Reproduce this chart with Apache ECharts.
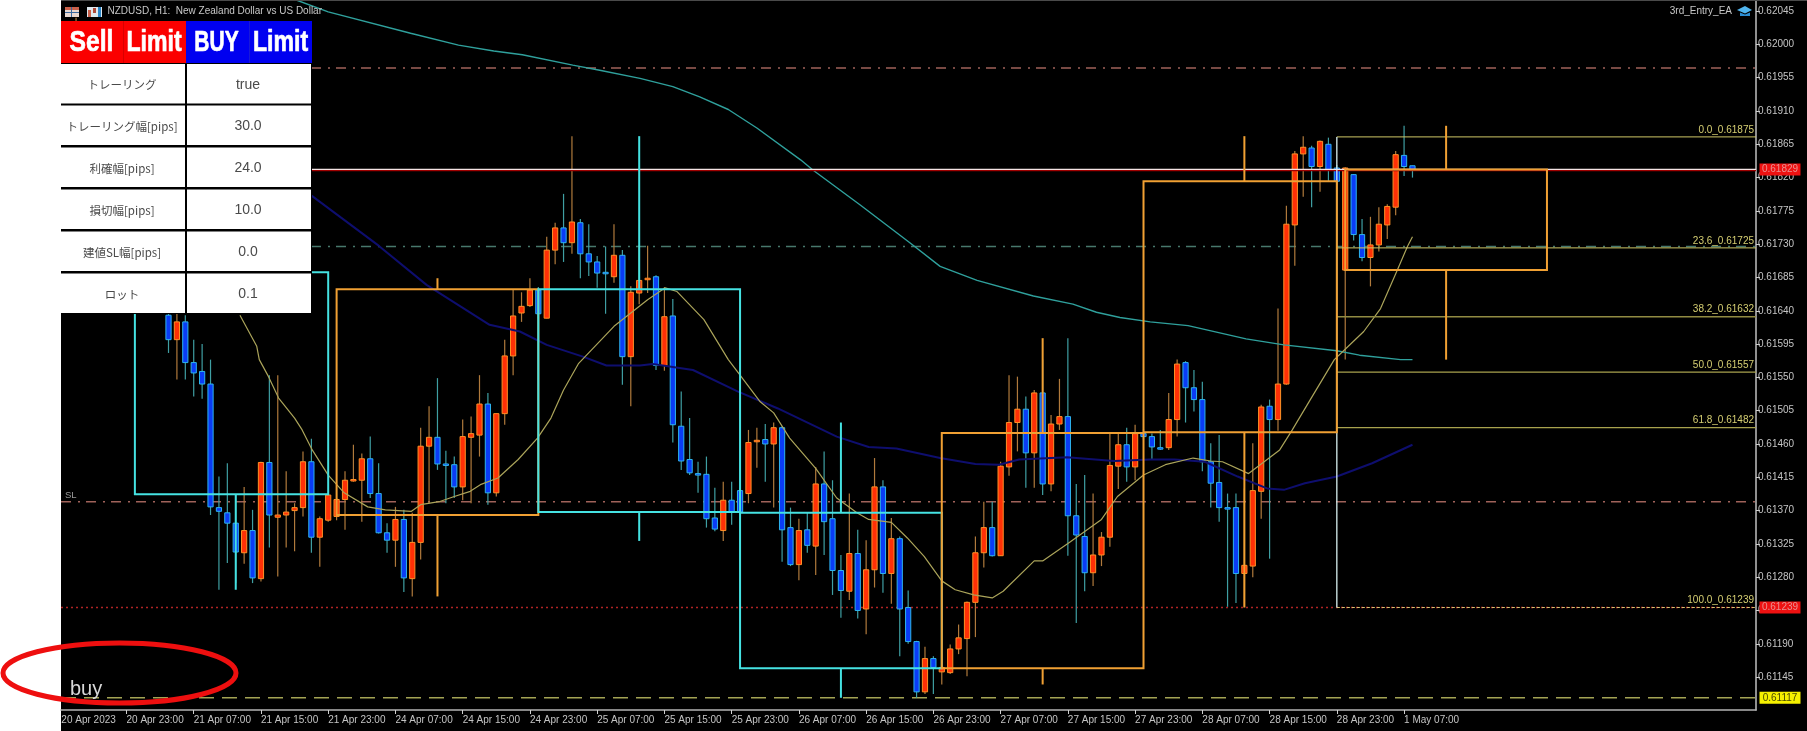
<!DOCTYPE html>
<html lang="ja">
<head>
  <meta charset="UTF-8">
  <title>NZDUSD, H1</title>
  <script src="https://cdn.jsdelivr.net/npm/echarts@6/dist/echarts.min.js"></script>
  <style>
    html, body { margin: 0; padding: 0; background: #fff; overflow: hidden; }
    #backdrop { position: absolute; left: 61px; top: 0; width: 1746px; height: 731px; background: #000; }
    #chart { position: absolute; left: 0; top: 0; width: 1807px; height: 731px; }
  </style>
</head>
<body>
<div id="backdrop"></div>
<div id="chart"></div>
<script>
  // prices below are in points (0.61634 -> 61634)
  var firstBar = -6;
  var opens = [61995,null,null,null,null,null,null,null,null,null,null,
    61634,61601,61625,61570,61558,61541,61374,61367,61353,61313,61343,61278,61435,61361,61364,61370,61374,61436,61334,61357,
    61362,61385,61411,61411,61440,61393,61340,61330,61358,61278,61327,61457,61469,61433,61432,61402,61469,61472,61514,61394,
    61501,61579,61637,61647,61668,61630,61722,61752,61732,61759,61717,61706,61692,61686,61715,61578,61664,61682,61686,61566,
    61633,61484,61439,61420,61419,61360,61343,61384,61397,61393,61464,61466,61460,61482,61347,61297,61344,61322,61406,61359,
    61289,61261,61312,61237,61290,61402,61285,61332,61239,61193,61125,61170,61152,61151,61183,61197,61246,61313,61347,61309,
    61429,61489,61507,61448,61529,61406,61487,61497,61363,61335,61286,61310,61334,61430,61459,61429,61474,61470,61455,61455,
    61493,61570,61536,61520,61436,61408,61374,61374,61285,61295,61396,61511,61493,61541,61756,61852,61860,61835,61865,61833,
    61695,61824,61743,61712,61729,61756,61780,61850,61836];
  var closes = [62010,null,null,null,null,null,null,null,null,null,null,
    61601,61625,61570,61556,61541,61375,61369,61353,61314,61343,61279,61435,61364,61364,61368,61374,61436,61334,61359,61391,
    61385,61411,61412,61440,61393,61340,61330,61358,61279,61327,61457,61469,61433,61431,61402,61470,61474,61514,61394,61501,
    61579,61633,61646,61668,61636,61722,61752,61732,61760,61717,61706,61691,61691,61715,61578,61665,61681,61684,61566,61632,
    61486,61437,61421,61419,61359,61345,61384,61368,61368,61462,61465,61460,61482,61344,61297,61343,61323,61406,61355,61289,
    61262,61312,61235,61290,61402,61285,61332,61237,61193,61125,61170,61158,61158,61183,61198,61246,61313,61347,61309,61430,
    61489,61507,61448,61529,61406,61487,61497,61363,61337,61286,61310,61334,61431,61459,61429,61474,61470,61456,61454,61493,
    61568,61536,61520,61436,61407,61374,61373,61285,61296,61397,61510,61493,61541,61757,61852,61861,61835,61869,61830,61815,
    61833,61743,61712,61729,61757,61781,61851,61835,61831];
  var lows = [61985,null,null,null,null,null,null,null,null,null,null,
    61583,61547,61547,61524,61521,61364,61263,61299,61272,61298,61272,61274,61320,61281,61320,61315,61362,61313,61294,61355,
    61357,61344,61409,61355,61387,61339,61313,61294,61260,61254,61304,61380,61425,61380,61387,61384,61380,61443,61378,61389,
    61486,61553,61625,61645,61630,61630,61703,61706,61717,61684,61687,61671,61636,61678,61540,61511,61649,61664,61560,61559,
    61462,61425,61418,61394,61347,61342,61329,61351,61364,61380,61428,61409,61374,61301,61295,61276,61313,61283,61310,61256,
    61225,61249,61224,61203,61266,61259,61244,61173,61190,61117,61122,61122,61135,61149,61176,61146,61199,61293,61308,61309,
    61417,61450,61401,61401,61391,61396,61479,61309,61218,61261,61268,61295,61321,61399,61409,61411,61466,61439,61452,61452,
    61470,61489,61504,61423,61374,61355,61240,61245,61240,61280,61359,61305,61478,61540,61701,61794,61780,61801,61815,61811,
    61574,61735,61707,61673,61720,61737,61769,61822,61820];
  var highs = [62036,null,null,null,null,null,null,null,null,null,null,
    61641,61638,61634,61601,61595,61574,61416,61434,61391,61402,61371,61436,61553,61553,61423,61380,61450,61467,61362,61394,
    61387,61423,61459,61447,61470,61434,61353,61375,61371,61367,61482,61511,61549,61451,61443,61493,61497,61553,61529,61501,
    61601,61668,61665,61684,61672,61740,61759,61798,61876,61764,61757,61714,61727,61757,61722,61673,61729,61728,61688,61672,
    61656,61531,61495,61436,61443,61401,61409,61409,61401,61479,61482,61487,61489,61484,61374,61359,61367,61429,61450,61411,
    61310,61393,61344,61330,61441,61411,61360,61335,61262,61194,61186,61173,61168,61189,61216,61247,61335,61382,61382,61436,
    61553,61551,61524,61533,61574,61499,61548,61603,61406,61418,61393,61341,61475,61474,61482,61486,61480,61474,61479,61529,
    61574,61572,61560,61544,61461,61472,61393,61393,61400,61461,61513,61520,61643,61782,61856,61876,61863,61870,61874,61837,
    61834,61825,61764,61767,61780,61784,61856,61890,61836];

  var fastBars = [13.5,15.5,15.8,16.9,18.1,20,20.9,22.1,24,25.9,28.7,30.8,33.9,35,37.2,39,40.9,42.1,44.2,46.6,48.9,50.5,52,53.8,
    58,62,64.1,65.5,68.7,71.6,73,75.4,77,78.9,82,84.5,86.9,88.3,91,92.9,94.9,97,98.6,100.8,103,104.3,108,109,112.3,116,117.9,
    121,123.6,126.9,129,130.4,133.5,135,137.2,138.7,140.9,143.7,144.9,147.2,149.2,151.2,152.4,153];
  var fastValues = [61634,61592,61574,61551,61522,61495,61479,61452,61418,61394,61375,61371,61369,61378,61382,61389,61396,61405,61414,61439,61468,61495,61533,61569,
    61619,61655,61671,61666,61628,61574,61553,61517,61502,61468,61427,61387,61367,61358,61354,61333,61308,61275,61263,61256,61252,61261,61302,61302,61328,61358,61389,
    61418,61432,61441,61437,61436,61420,61433,61452,61479,61521,61574,61587,61612,61643,61695,61727,61740];
  var midBars = [20.6,22.1,30,35.7,43.2,46.8,50,54.3,57.1,61.1,62.6,67.4,72.7,77.5,84.5,88.3,91.6,96.8,101,103.8,106.2,111.9,117.5,
    121.8,124.7,128.3,132.2,135.7,137.7,140.2,144,148.2,153];
  var midValues = [61806,61795,61728,61675,61621,61612,61594,61578,61566,61566,61568,61560,61531,61508,61470,61456,61454,61441,61433,61432,61439,61442,61437,
    61439,61439,61436,61416,61400,61398,61407,61416,61434,61459];
  var slowBars = [20.2,24,33.8,39.5,43.7,47.1,53.1,56.3,61.1,65,68.2,71.6,75,80.2,81.7,87.3,93.2,96.8,101.2,107.9,112.6,115.4,118.2,
    121.8,126.3,133.2,137.7,144,146.7,151.6,153];
  var slowValues = [62060,62044,62015,61999,61991,61986,61972,61965,61954,61943,61929,61912,61887,61844,61830,61783,61732,61700,61681,61660,61649,61638,61631,
    61625,61620,61602,61594,61586,61580,61574,61574];

  var boxSides = ['sell','buy','sell','sell','buy','buy','buy'];
  var boxStart = [1,25,49,73,97,121,145];
  var boxEnd = [24,49,73,97,121,144,169];
  var boxTop = [61692,61669,61669,61367,61475,61815,61831];
  var boxBottom = [61392,61364,61368,61157,61157,61476,61695];
  var tailBar = [13,37,61,85,109,133,157];
  var tailHigh = [61760,61684,61876,61489,61603,61876,61890];
  var tailLow = [61263,61254,61329,61117,61135,61239,61574];

  var levelPrices = [61968,61727,61382,61239,61117];
  var profitLine = 61831;
  var fibStartBar = 144;
  var fibPrices = [61875,61725,61632,61557,61482,61239];
  var fibNames = ['0.0_0.61875','23.6_0.61725','38.2_0.61632','50.0_0.61557','61.8_0.61482','100.0_0.61239'];
  var tagPrices = [61831,61239,61117];
  var tagTexts = ['0.61829','0.61239','0.61117'];

  var tickBars = [-7.75,0,8,16,24,32,40,48,56,64,72,80,88,96,104,112,120,128,136,144,152];
  var tickLabels = ['20 Apr 2023','20 Apr 23:00','21 Apr 07:00','21 Apr 15:00','21 Apr 23:00','24 Apr 07:00','24 Apr 15:00','24 Apr 23:00',
    '25 Apr 07:00','25 Apr 15:00','25 Apr 23:00','26 Apr 07:00','26 Apr 15:00','26 Apr 23:00','27 Apr 07:00','27 Apr 15:00','27 Apr 23:00',
    '28 Apr 07:00','28 Apr 15:00','28 Apr 23:00','1 May 07:00'];
  var priceTicks = [0.62045,0.62000,0.61955,0.61910,0.61865,0.61820,0.61775,0.61730,0.61685,0.61640,0.61595,0.61550,0.61505,0.61460,
    0.61415,0.61370,0.61325,0.61280,0.61235,0.61190,0.61145];

  var panelLabels = ['トレーリング','トレーリング幅[pips]','利確幅[pips]','損切幅[pips]','建値SL幅[pips]','ロット'];
  var panelValues = ['true','30.0','24.0','10.0','0.0','0.1'];

  var xMin = -7.79, xMax = 193.87, yMin = 0.611005, yMax = 0.6206;

  function price(points) { return points === null ? null : points / 100000; }
  function zip(bars, values) {
    return bars.map(function (b, i) { return [b, price(values[i])]; });
  }

  var candleData = [];
  opens.forEach(function (o, i) {
    if (o === null) return;
    candleData.push([firstBar + i, price(o), price(closes[i]), price(lows[i]), price(highs[i])]);
  });

  function renderCandle(params, api) {
    var bar = api.value(0), o = api.value(1), c = api.value(2);
    var up = c >= o;
    var x = api.coord([bar, o])[0];
    var yO = api.coord([bar, o])[1], yC = api.coord([bar, c])[1];
    var yL = api.coord([bar, api.value(3)])[1], yH = api.coord([bar, api.value(4)])[1];
    var w = api.size([1, 0])[0] * 0.62;
    var top = Math.min(yO, yC), h = Math.max(Math.abs(yO - yC), 1.5);
    return {
      type: 'group',
      children: [
        { type: 'line', shape: { x1: x, y1: yH, x2: x, y2: yL }, style: { stroke: up ? '#b07a3c' : '#3f9fa3', lineWidth: 1.2 } },
        { type: 'rect', shape: { x: x - w / 2, y: top, width: w, height: h },
          style: { fill: up ? '#ff3006' : '#0a3cf5', stroke: up ? '#ff9026' : '#2eb4ee', lineWidth: 1 } }
      ]
    };
  }

  var boxData = boxStart.map(function (s, i) {
    return [s, boxEnd[i], price(boxTop[i]), price(boxBottom[i]), tailBar[i], price(tailHigh[i]), price(tailLow[i]), boxSides[i] === 'sell' ? 0 : 1];
  });

  function renderBox(params, api) {
    var a = api.coord([api.value(0), api.value(2)]);
    var b = api.coord([api.value(1), api.value(3)]);
    var color = api.value(7) === 0 ? '#45e2e2' : '#f0a033';
    var tx = api.coord([api.value(4), api.value(2)])[0];
    var yHi = api.coord([api.value(4), api.value(5)])[1];
    var yLo = api.coord([api.value(4), api.value(6)])[1];
    var stroke = { stroke: color, lineWidth: 2, fill: null };
    return {
      type: 'group',
      children: [
        { type: 'rect', shape: { x: a[0], y: a[1], width: b[0] - a[0], height: b[1] - a[1] }, style: stroke },
        { type: 'line', shape: { x1: tx, y1: yHi, x2: tx, y2: a[1] }, style: stroke },
        { type: 'line', shape: { x1: tx, y1: b[1], x2: tx, y2: yLo }, style: stroke }
      ]
    };
  }

  function flatLine(name, from, p, color, width, dash, z) {
    return {
      name: name, type: 'line', data: [[from, p], [xMax, p]], symbol: 'none', silent: true, z: z,
      lineStyle: { color: color, width: width, type: dash || 'solid' }
    };
  }

  function maLine(name, data, color, width, z) {
    return {
      name: name, type: 'line', data: data, symbol: 'none', silent: true, z: z,
      lineStyle: { color: color, width: width }
    };
  }

  var dashDot = [10, 7, 2, 6];
  var levelStyles = [
    ['#a0625a', 1.5, dashDot], ['#47786c', 1.5, dashDot], ['#a0625a', 1.5, dashDot],
    ['#b02424', 1.5, [2, 3]], ['#a4a454', 1.5, [15, 8]]
  ];
  var fibStyles = [['#cfc766', 1], ['#cfc766', 1], ['#918b42', 1.6], ['#a8a24e', 1.2], ['#a8a24e', 1.2], ['#d8c070', 1]];
  var fibDashes = [null, null, null, null, null, [3, 2]];

  var series = [];
  levelPrices.forEach(function (p, i) {
    var s = levelStyles[i];
    series.push(flatLine('level' + i, xMin, price(p), s[0], s[1], s[2], 1));
  });
  series.push({ name: 'candles', type: 'custom', renderItem: renderCandle, data: candleData, encode: { x: 0, y: [1, 2, 3, 4] }, silent: true, clip: true, z: 3 });
  series.push(maLine('slowMA', zip(slowBars, slowValues), '#2fa09c', 1.4, 4));
  series.push(maLine('midMA', zip(midBars, midValues), '#0e0e6e', 2, 4));
  series.push(maLine('fastMA', zip(fastBars, fastValues), '#aba45a', 1.2, 4));
  series.push(flatLine('profitBase', xMin, price(profitLine) - 0.000014, '#a00000', 1.4, null, 4));
  series.push(flatLine('profit', xMin, price(profitLine), '#f4e4e4', 1.2, null, 4));
  fibPrices.forEach(function (p, i) {
    series.push(flatLine('fib' + i, fibStartBar, price(p), fibStyles[i][0], fibStyles[i][1], fibDashes[i], 4));
  });
  series.push({
    name: 'fibStem', type: 'line', symbol: 'none', silent: true, z: 4,
    data: [[fibStartBar, price(fibPrices[0])], [fibStartBar, price(fibPrices[5])]],
    lineStyle: { color: '#d8f0f0', width: 1.3 }
  });
  series.push({ name: 'boxes', type: 'custom', renderItem: renderBox, data: boxData, silent: true, clip: true, z: 5 });
  series.push({
    name: 'fibLabels', type: 'custom', silent: true, z: 6,
    data: fibPrices.map(function (p, i) { return [xMax, price(p), i]; }),
    renderItem: function (params, api) {
      var pt = api.coord([api.value(0), api.value(1)]);
      return {
        type: 'text',
        style: { x: pt[0] - 2, y: pt[1] - 7, text: fibNames[api.value(2)], fill: '#d6cf72', font: '10px "Liberation Sans"', align: 'right', verticalAlign: 'middle' }
      };
    }
  });
  series.push({
    name: 'priceTags', type: 'custom', silent: true, z: 20,
    data: tagPrices.map(function (p, i) { return [xMax, price(p), i]; }),
    renderItem: function (params, api) {
      var pt = api.coord([api.value(0), api.value(1)]);
      var i = api.value(2);
      var yellow = i === 2;
      return {
        type: 'group',
        children: [
          { type: 'rect', shape: { x: pt[0] + 3.5, y: pt[1] - 6, width: 41, height: 12 }, style: { fill: yellow ? '#f5f000' : '#ee1111' } },
          { type: 'text', style: { x: pt[0] + 24, y: pt[1], text: tagTexts[i], fill: yellow ? '#4a4a00' : '#e89090', font: '10px "Liberation Sans"', align: 'center', verticalAlign: 'middle' } }
        ]
      };
    }
  });

  // panel and title sit on top of the chart, like the EA's own objects do
  var panel = [];
  function addRect(x, y, w, h, fill, z) {
    panel.push({ type: 'rect', z: z || 100, silent: true, shape: { x: x, y: y, width: w, height: h }, style: { fill: fill } });
  }
  function addText(x, y, text, font, fill, align) {
    panel.push({ type: 'text', z: 101, silent: true, x: x, y: y, style: { text: text, font: font, fill: fill, align: align || 'center', verticalAlign: 'middle' } });
  }
  function addHeadText(x, text, squeeze) {
    panel.push({
      type: 'text', z: 101, silent: true, x: x, y: 43, scaleX: squeeze,
      style: { text: text, font: 'bold 30px "Liberation Sans"', fill: '#fff', stroke: '#fff', lineWidth: 0.7, align: 'center', verticalAlign: 'middle' }
    });
  }
  addRect(61, 21, 251, 293, '#000', 99);
  addRect(61, 21, 125, 42, '#fb0000');
  addRect(186, 21, 126, 42, '#0000f0');
  addRect(123, 21, 1, 42, '#d80000');
  addRect(249, 21, 1, 42, '#1818d8');
  addHeadText(91.5, 'Sell', 0.82);
  addHeadText(154, 'Limit', 0.77);
  addHeadText(216.5, 'BUY', 0.7);
  addHeadText(280.5, 'Limit', 0.77);
  var rowTops = [64, 105.5, 147.5, 189.5, 231.5, 273.5];
  panelLabels.forEach(function (label, i) {
    addRect(61, rowTops[i], 124, 39.5, '#fff');
    addRect(187, rowTops[i], 124, 39.5, '#fff');
    addText(122, rowTops[i] + 21, label, '11.5px "Noto Sans CJK JP"', '#4a4a4a');
    addText(248, rowTops[i] + 21, panelValues[i], '14px "Liberation Sans"', '#4a4a4a');
  });
  // title bar icons
  addRect(65, 7, 14, 10, '#e8d8d0', 100);
  addRect(65, 7, 14, 3, '#c9604a', 100);
  addRect(71, 7, 1, 10, '#3a6aa0', 100);
  addRect(65, 12, 14, 1, '#3a6aa0', 100);
  addRect(87, 7, 15, 10, '#dfe8ee', 100);
  addRect(88, 10, 3, 7, '#c9604a', 100);
  addRect(93, 8, 3, 5, '#b04a3a', 100);
  addRect(98, 7, 3, 10, '#2a86c8', 100);
  addText(107.5, 11.5, 'NZDUSD, H1:  New Zealand Dollar vs US Dollar', '10px "Liberation Sans"', '#c8c8c8', 'left');
  addText(1732, 11.5, '3rd_Entry_EA', '10px "Liberation Sans"', '#c8c8c8', 'right');
  panel.push({ type: 'polygon', z: 100, silent: true, shape: { points: [[1737, 10], [1745, 6], [1752, 10], [1745, 13.5]] }, style: { fill: '#4fb4ee' } });
  panel.push({ type: 'polygon', z: 100, silent: true, shape: { points: [[1740, 12.5], [1745, 14.5], [1750, 12.5], [1750, 16], [1740, 16]] }, style: { fill: '#2c8ed4' } });
  addText(65, 495, 'SL', '9.5px "Liberation Sans"', '#9a9a9a', 'left');
  addText(70, 689, 'buy', '20px "Liberation Sans"', '#d8d8d8', 'left');
  addRect(61, 0, 1746, 1, '#4a4a4a', 100);
  panel.push({
    type: 'ellipse', z: 110, silent: true,
    shape: { cx: 119.5, cy: 673, rx: 116.5, ry: 30 },
    style: { fill: null, stroke: '#ee0f0f', lineWidth: 5 }
  });

  var chart = echarts.init(document.getElementById('chart'), null, { renderer: 'canvas' });
  chart.setOption({
    animation: false,
    backgroundColor: 'transparent',
    grid: { left: 61, right: 51, top: 0, bottom: 21 },
    tooltip: { show: false },
    xAxis: {
      type: 'value', min: xMin, max: xMax, splitLine: { show: false },
      axisLine: { onZero: false, lineStyle: { color: '#b4b4b4', width: 1.6 } },
      axisTick: { customValues: tickBars.slice(1), length: 4, lineStyle: { color: '#d0d0d0' } },
      axisLabel: {
        customValues: tickBars, align: 'left', margin: 5, color: '#c4c4c4', fontSize: 10, fontFamily: 'Liberation Sans',
        formatter: function (v) { return tickLabels[tickBars.indexOf(v)] || ''; }
      }
    },
    yAxis: {
      type: 'value', position: 'right', min: yMin, max: yMax, splitLine: { show: false },
      axisLine: { show: true, onZero: false, lineStyle: { color: '#b4b4b4', width: 1.6 } },
      axisTick: { customValues: priceTicks, length: 4, lineStyle: { color: '#d0d0d0' } },
      axisLabel: {
        customValues: priceTicks, margin: 2, color: '#c4c4c4', fontSize: 10, fontFamily: 'Liberation Sans',
        formatter: function (v) { return v.toFixed(5); }
      }
    },
    series: series,
    graphic: { elements: panel }
  });
</script>
</body>
</html>
